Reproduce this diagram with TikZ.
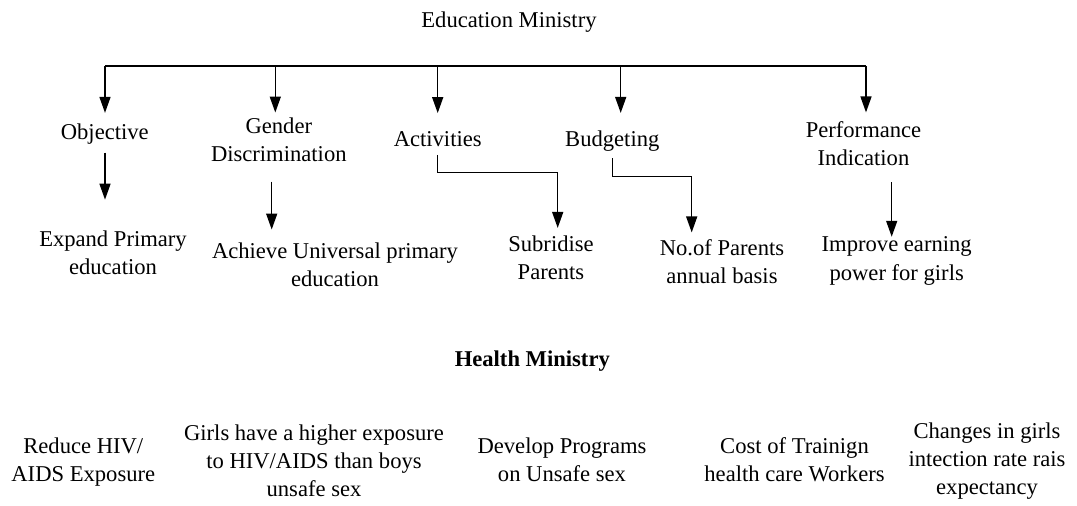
\documentclass[tikz,border=0pt]{standalone}
\usepackage{fontspec}
\setmainfont{Liberation Serif}
\usetikzlibrary{arrows.meta}
\begin{document}
\begin{tikzpicture}[x=0.5pt,y=-0.5pt,
  lbl/.style={inner sep=0pt, outer sep=0pt, align=center, font=\fontsize{11.3}{14.1}\selectfont},
  conn/.style={line width=0.75pt},
  arr/.style={conn, -{Triangle[length=8pt,width=5.5pt]}}]
\useasboundingbox (0,0) rectangle (1077,506);

% Education ministry
\node[lbl] (edu) at (509,21.8) {Education Ministry};
\node[lbl] (obj) at (104.8,134) {Objective};
\node[lbl] (gen) at (278.8,139.5) {Gender\\Discrimination};
\node[lbl] (act) at (437.7,139) {Activities};
\node[lbl] (bud) at (612.3,141.5) {Budgeting};
\node[lbl] (perf) at (863.5,143.5) {Performance\\Indication};

\node[lbl] (exp) at (113,253) {Expand Primary\\education};
\node[lbl] (ach) at (335,264.5) {Achieve Universal primary\\education};
\node[lbl] (sub) at (551,258) {Subridise\\Parents};
\node[lbl] (noof) at (722,261.5) {No.of Parents\\annual basis};
\node[lbl] (imp) at (896.7,261) {Improve earning\\power for girls};

% Health ministry
\node[lbl, font=\fontsize{11.3}{14.1}\selectfont\bfseries] (health) at (532.3,360.8) {Health Ministry};
\node[lbl] (r1) at (83.3,462) {Reduce HIV/\\AIDS Exposure};
\node[lbl] (r2) at (314,460.6) {Girls have a higher exposure\\to HIV/AIDS than boys\\unsafe sex};
\node[lbl] (r3) at (562,459.5) {Develop Programs\\on Unsafe sex};
\node[lbl] (r4) at (794.5,459.5) {Cost of Trainign\\health care Workers};
\node[lbl] (r5) at (987,461.3) {Changes in girls\\intection rate rais\\expectancy};

% top bar and arrows
\coordinate (b1) at (105,66);
\coordinate (b2) at (275.3,66);
\coordinate (b3) at (437.7,66);
\coordinate (b4) at (620.7,66);
\coordinate (b5) at (866,66);
\draw[conn] (b1) -- (b5);
\draw[arr, shorten >=5.45pt] (b1) -- (b1 |- obj.north);
\draw[arr, shorten >=2.45pt] (b2) -- (b2 |- gen.north);
\draw[arr, shorten >=9.15pt] (b3) -- (b3 |- act.north);
\draw[arr, shorten >=9.15pt] (b4) -- (b4 |- bud.north);
\draw[arr, shorten >=4.45pt] (b5) -- (b5 |- perf.north);

% second level arrows
\coordinate (g5) at (271.7,0);
\coordinate (e1) at (437.7,172.7);
\coordinate (e2) at (557.7,172.7);
\coordinate (e3) at (612.3,176.7);
\coordinate (e4) at (691.7,176.7);
\coordinate (p5) at (891.7,0);
\draw[arr, shorten <=4.25pt, shorten >=15.65pt] (b1 |- obj.south) -- (b1 |- exp.north);
\draw[arr, shorten <=10pt, shorten >=6.45pt] (g5 |- gen.south) -- (g5 |- ach.north);
\draw[arr, shorten <=4.15pt, shorten >=4pt] (act.south) -- (e1) -- (e2) -- (e2 |- sub.north);
\draw[arr, shorten <=3.35pt, shorten >=3.45pt] (bud.south) -- (e3) -- (e4) -- (e4 |- noof.north);
\draw[arr, shorten <=8.35pt, shorten >=0.1pt] (p5 |- perf.south) -- (p5 |- imp.north);
\end{tikzpicture}
\end{document}
